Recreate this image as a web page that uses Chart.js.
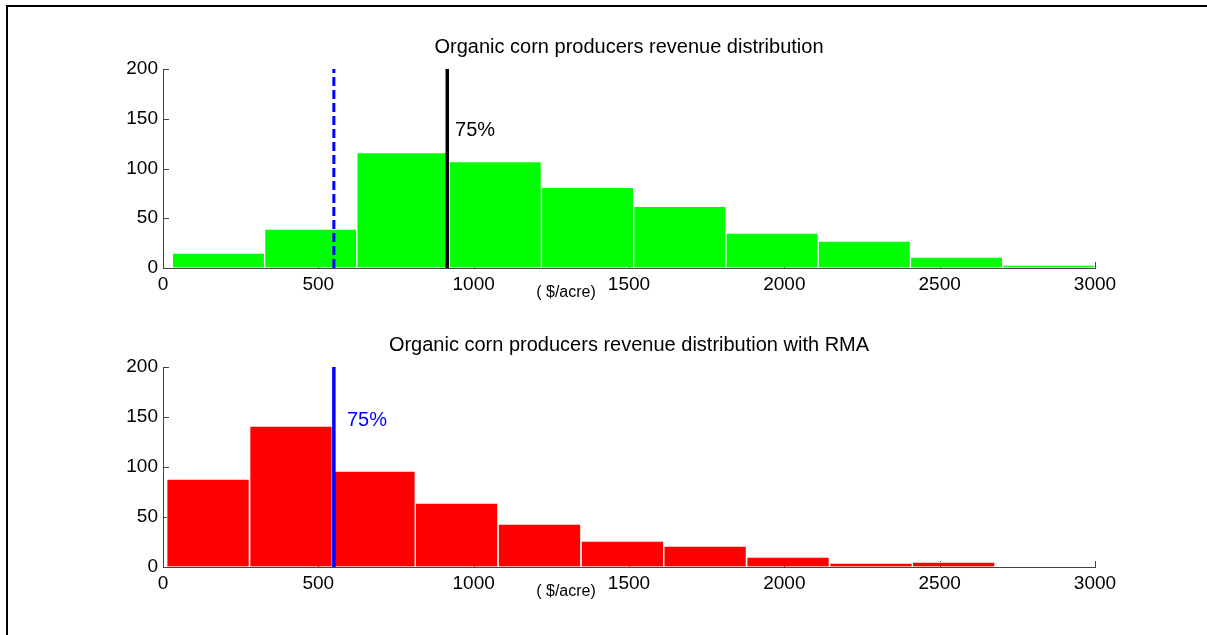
<!DOCTYPE html>
<html>
<head>
<meta charset="utf-8">
<script src="https://cdn.jsdelivr.net/npm/chart.js@4"></script>
<style>
  html, body { margin: 0; padding: 0; background: #fff; overflow: hidden; }
  #page { position: relative; width: 1207px; height: 635px; }
  #frame { position: absolute; left: 6px; top: 5px; width: 1300px; height: 700px; border: 2px solid #000; }
  canvas { position: absolute; left: 0; top: 0; }
</style>
</head>
<body>
<div id="page">
  <div id="frame"></div>
  <canvas id="topChart" width="1207" height="635"></canvas>
  <canvas id="bottomChart" width="1207" height="635"></canvas>
</div>
<script>
// histogram bin centres ($/acre) and counts
const organicBins = [178.5, 475.5, 772.5, 1069.5, 1366.5, 1663.5, 1960.5, 2257.5, 2554.5, 2851.5];
const organicCounts = [15, 39, 116, 107, 81, 62, 35, 27, 11, 3];

const rmaBins = [145, 412, 679, 945, 1212, 1479, 1745, 2012, 2279, 2545];
const rmaCounts = [88, 141, 96, 64, 43, 26, 21, 10, 4, 5];

// marker lines
const organicMean = 550;
const organicP75 = 915;
const rmaP75 = 550;

const xTicks = [0, 500, 1000, 1500, 2000, 2500, 3000];
const yTicks = [0, 50, 100, 150, 200];

const FONT = '"Liberation Sans", Arial, Helvetica, sans-serif';

const inwardTicks = {
  id: 'inwardTicks',
  beforeDatasetsDraw(chart) {
    const { ctx, chartArea, scales: { x, y } } = chart;
    ctx.save();
    ctx.strokeStyle = '#444';
    ctx.lineWidth = 1;
    ctx.beginPath();
    x.ticks.forEach(t => {
      const px = Math.round(x.getPixelForValue(t.value)) + 0.5;
      ctx.moveTo(px, chartArea.bottom);
      ctx.lineTo(px, chartArea.bottom - 6);
    });
    y.ticks.forEach(t => {
      const py = Math.round(y.getPixelForValue(t.value)) + 0.5;
      ctx.moveTo(chartArea.left, py);
      ctx.lineTo(chartArea.left + 6, py);
    });
    ctx.stroke();
    ctx.restore();
  }
};

const figText = {
  id: 'figText',
  afterDraw(chart, args, opts) {
    const { ctx, chartArea, scales: { x, y } } = chart;
    ctx.save();
    ctx.fillStyle = '#000';
    ctx.textAlign = 'center';
    ctx.textBaseline = 'alphabetic';
    ctx.font = '20px ' + FONT;
    ctx.fillText(opts.title, (chartArea.left + chartArea.right) / 2, chartArea.top - 16);
    ctx.font = '16px ' + FONT;
    ctx.textBaseline = 'middle';
    ctx.fillText(opts.xlabel, chartArea.left + 403, chartArea.bottom + 25);
    ctx.textAlign = 'left';
    ctx.font = '20px ' + FONT;
    ctx.fillStyle = opts.markColor;
    ctx.fillText(opts.markText, x.getPixelForValue(opts.markX), y.getPixelForValue(opts.markY));
    ctx.restore();
  }
};

const vline = (xv, color, width, dash) => ({
  type: 'line',
  data: [{ x: xv, y: 0 }, { x: xv, y: 200 }],
  borderColor: color,
  borderWidth: width,
  borderDash: dash,
  pointRadius: 0,
  fill: false,
  order: 0
});

const makeChart = (id, bins, counts, color, lines, text, bottomPad) => {
  new Chart(document.getElementById(id), {
    type: 'bar',
    data: {
      datasets: [
        {
          type: 'bar',
          data: bins.map((b, i) => ({ x: b, y: counts[i] })),
          backgroundColor: color,
          borderColor: 'rgba(255,255,255,0.85)',
          borderWidth: 1,
          barPercentage: 1,
          categoryPercentage: 1,
          order: 1
        },
        ...lines
      ]
    },
    options: {
      responsive: false,
      animation: false,
      events: [],
      layout: { padding: { left: 103, right: 112, top: text.top, bottom: bottomPad } },
      plugins: {
        legend: { display: false },
        tooltip: { enabled: false },
        figText: text
      },
      scales: {
        x: {
          type: 'linear',
          min: 0,
          max: 3000,
          offset: false,
          afterFit: s => { s.height = 40; },
          afterBuildTicks: s => { s.ticks = xTicks.map(v => ({ value: v })); },
          ticks: {
            color: '#000',
            font: { family: FONT, size: 19 },
            padding: 5,
            maxRotation: 0,
            callback: v => String(v)
          },
          grid: { display: true, drawOnChartArea: false, drawTicks: false, offset: false },
          border: { color: '#444', width: 1 }
        },
        y: {
          min: 0,
          max: 200,
          afterFit: s => { s.width = 60; },
          afterBuildTicks: s => { s.ticks = yTicks.map(v => ({ value: v })); },
          ticks: { color: '#000', font: { family: FONT, size: 19 }, padding: 5, callback: v => String(v) },
          grid: { display: true, drawOnChartArea: false, drawTicks: false },
          border: { color: '#444', width: 1 }
        }
      }
    },
    plugins: [inwardTicks, figText]
  });
};

makeChart('topChart', organicBins, organicCounts, '#00ff00',
  [vline(organicMean, '#0000ff', 3, [9, 4]), vline(organicP75, '#000000', 3.5, [])],
  { title: 'Organic corn producers revenue distribution', xlabel: '( $/acre)',
    markText: '75%', markX: 940, markY: 138, markColor: '#000', top: 69 },
  635 - 268 - 40);

makeChart('bottomChart', rmaBins, rmaCounts, '#ff0000',
  [vline(rmaP75, '#0000ff', 3.5, [])],
  { title: 'Organic corn producers revenue distribution with RMA', xlabel: '( $/acre)',
    markText: '75%', markX: 592, markY: 147, markColor: '#0000ff', top: 367 },
  635 - 567 - 40);
</script>
</body>
</html>
